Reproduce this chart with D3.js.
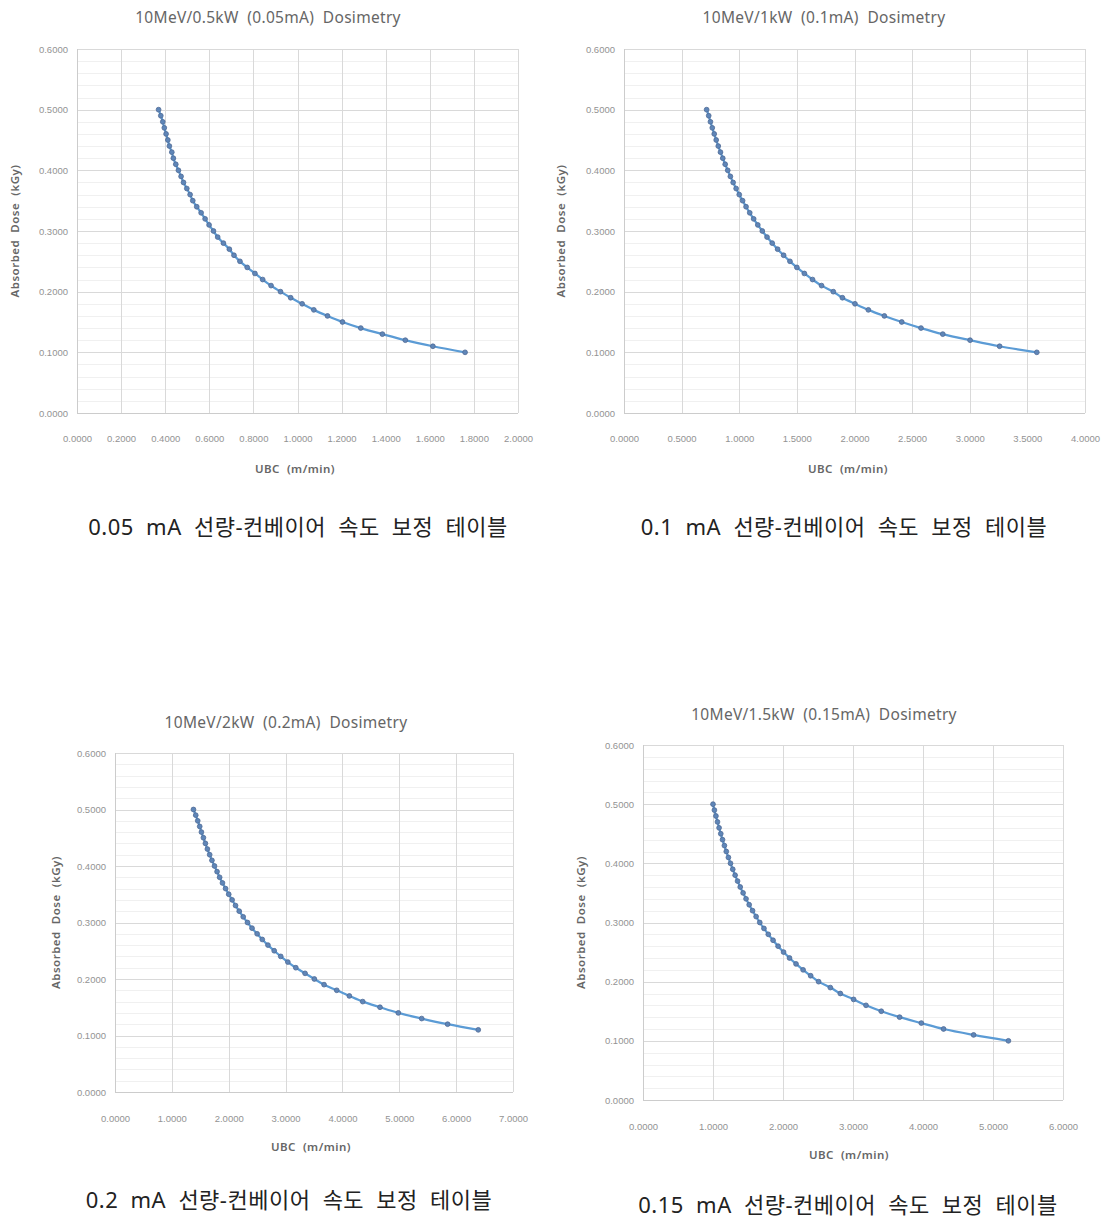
<!DOCTYPE html>
<meta charset="utf-8">
<style>
 body { margin: 0; background: #fff; }
 svg { font-family: "Noto Sans", "Open Sans", sans-serif; }
 text { white-space: pre; }
 .grid line { stroke: #d9d9d9; shape-rendering: crispEdges; }
 .grid path { display: none; }
 .minor line { stroke: #f0f0f0; shape-rendering: crispEdges; }
 .labels path { display: none; }
 .labels text { fill: #939393; font-size: 9.5px; }
 .frame { stroke: #cccccc; shape-rendering: crispEdges; }
 .title { fill: #666; font-size: 15.5px; letter-spacing: 0.3px; }
 .axistitle { fill: #666; font-size: 11.5px; font-weight: 600; letter-spacing: 0.5px; }
 .caption { fill: #222; font-family: "Noto Sans", "Noto Sans CJK KR", sans-serif; font-size: 22px; word-spacing: 6px; letter-spacing: 0.5px; }
 .series { fill: none; stroke: #5b9bd5; stroke-width: 2.25px; }
 .dot { fill: #5f86b8; stroke: #4f6a94; stroke-width: 0.8px; }
</style>

<svg id="page" width="1109" height="1220"></svg>

<script src="https://cdn.jsdelivr.net/npm/d3@7/dist/d3.min.js"></script>

<script>
 // absorbed dose (kGy), same steps for every table
 var dose = [0.50, 0.49, 0.48, 0.47, 0.46, 0.45, 0.44, 0.43, 0.42, 0.41,
             0.40, 0.39, 0.38, 0.37, 0.36, 0.35, 0.34, 0.33, 0.32, 0.31,
             0.30, 0.29, 0.28, 0.27, 0.26, 0.25, 0.24, 0.23, 0.22, 0.21,
             0.20, 0.19, 0.18, 0.17, 0.16, 0.15, 0.14, 0.13, 0.12, 0.11, 0.10];

 // conveyor speed UBC (m/min)
 var ubc005 = [0.370, 0.380, 0.389, 0.396, 0.404, 0.412, 0.419, 0.430, 0.437, 0.448,
               0.460, 0.472, 0.483, 0.498, 0.513, 0.525, 0.543, 0.563, 0.581, 0.599,
               0.619, 0.638, 0.664, 0.691, 0.712, 0.739, 0.772, 0.807, 0.842, 0.880,
               0.923, 0.969, 1.021, 1.074, 1.136, 1.204, 1.287, 1.385, 1.489, 1.614, 1.760];

 var ubc010 = [0.717, 0.735, 0.750, 0.766, 0.783, 0.800, 0.818, 0.837, 0.857, 0.878,
               0.900, 0.923, 0.947, 0.973, 1.000, 1.029, 1.059, 1.091, 1.125, 1.161,
               1.200, 1.241, 1.286, 1.333, 1.385, 1.440, 1.500, 1.565, 1.636, 1.714,
               1.816, 1.895, 2.004, 2.120, 2.259, 2.410, 2.577, 2.766, 3.003, 3.259, 3.582];

 var ubc020 = [1.380, 1.420, 1.455, 1.490, 1.520, 1.555, 1.590, 1.625, 1.665, 1.705,
               1.750, 1.795, 1.840, 1.890, 1.945, 2.000, 2.060, 2.120, 2.185, 2.255,
               2.330, 2.410, 2.500, 2.590, 2.690, 2.800, 2.915, 3.040, 3.180, 3.343,
               3.506, 3.677, 3.900, 4.122, 4.357, 4.661, 4.983, 5.394, 5.850, 6.389];

 var ubc015 = [1.000, 1.020, 1.042, 1.064, 1.087, 1.111, 1.136, 1.163, 1.190, 1.220,
               1.250, 1.282, 1.316, 1.351, 1.389, 1.430, 1.472, 1.517, 1.565, 1.616,
               1.668, 1.728, 1.790, 1.858, 1.930, 2.008, 2.093, 2.186, 2.287, 2.395,
               2.509, 2.676, 2.819, 3.009, 3.186, 3.404, 3.666, 3.976, 4.294, 4.723, 5.220];

 var yTicks = [0, 0.1, 0.2, 0.3, 0.4, 0.5, 0.6];
 var xTicks005 = [0, 0.2, 0.4, 0.6, 0.8, 1.0, 1.2, 1.4, 1.6, 1.8, 2.0];
 var xTicks010 = [0, 0.5, 1.0, 1.5, 2.0, 2.5, 3.0, 3.5, 4.0];
 var xTicks020 = [0, 1, 2, 3, 4, 5, 6, 7];
 var xTicks015 = [0, 1, 2, 3, 4, 5, 6];

 var titles = ["10MeV/0.5kW  (0.05mA)  Dosimetry",
               "10MeV/1kW  (0.1mA)  Dosimetry",
               "10MeV/2kW  (0.2mA)  Dosimetry",
               "10MeV/1.5kW  (0.15mA)  Dosimetry"];

 var captions = ["0.05 mA 선량-컨베이어 속도 보정 테이블",
                 "0.1 mA 선량-컨베이어 속도 보정 테이블",
                 "0.2 mA 선량-컨베이어 속도 보정 테이블",
                 "0.15 mA 선량-컨베이어 속도 보정 테이블"];

 var xLabel = "UBC  (m/min)";
 var yLabel = "Absorbed  Dose  (kGy)";

 // panel layout
 var panels = [
     {ubc: ubc005, xt: xTicks005, title: titles[0], caption: captions[0],
      left: 77, right: 518, top: 49, bottom: 413, titleX: 268, titleY: 23,
      xtY: 435, xTitleX: 295, xTitleY: 473, yTitleX: 19, capX: 298, capY: 535},
     {ubc: ubc010, xt: xTicks010, title: titles[1], caption: captions[1],
      left: 624, right: 1085, top: 49, bottom: 413, titleX: 824, titleY: 23,
      xtY: 435, xTitleX: 848, xTitleY: 473, yTitleX: 565, capX: 844, capY: 535},
     {ubc: ubc020, xt: xTicks020, title: titles[2], caption: captions[2],
      left: 115, right: 513, top: 753, bottom: 1092, titleX: 286, titleY: 728,
      xtY: 1115, xTitleX: 311, xTitleY: 1151, yTitleX: 60, capX: 289, capY: 1208},
     {ubc: ubc015, xt: xTicks015, title: titles[3], caption: captions[3],
      left: 643, right: 1063, top: 745, bottom: 1100, titleX: 824, titleY: 720,
      xtY: 1123, xTitleX: 849, xTitleY: 1159, yTitleX: 585, capX: 848, capY: 1213}
 ];

 var svg = d3.select("#page");

 panels.forEach(drawPanel);

 function drawPanel(p)
 {
     var g = svg.append("g");
     var w = p.right - p.left, h = p.bottom - p.top;

     var x = d3.scaleLinear().domain([0, d3.max(p.xt)]).range([p.left, p.right]);
     var y = d3.scaleLinear().domain([0, 0.6]).range([p.bottom, p.top]);

     // minor horizontal gridlines
     var minorTicks = d3.range(1, 30).map(function(i) { return i * 0.02; })
                        .filter(function(v) { return Math.abs(v * 10 - Math.round(v * 10)) > 0.01; });
     g.append("g").attr("class", "minor")
         .selectAll("line").data(minorTicks).enter().append("line")
         .attr("x1", p.left).attr("x2", p.right)
         .attr("y1", function(d) { return Math.round(y(d)) + 0.5; })
         .attr("y2", function(d) { return Math.round(y(d)) + 0.5; });

     g.append("g").attr("class", "grid")
         .attr("transform", "translate(" + p.left + ",0)")
         .call(d3.axisLeft(y).tickValues(yTicks).tickSize(-w).tickFormat(""));

     g.append("g").attr("class", "grid")
         .attr("transform", "translate(0," + p.bottom + ")")
         .call(d3.axisBottom(x).tickValues(p.xt).tickSize(-h).tickFormat(""));

     g.append("line").attr("class", "frame")
         .attr("x1", p.left).attr("x2", p.left).attr("y1", p.top).attr("y2", p.bottom);
     g.append("line").attr("class", "frame")
         .attr("x1", p.left).attr("x2", p.right).attr("y1", p.bottom).attr("y2", p.bottom);

     // tick labels
     g.append("g").attr("class", "labels")
         .attr("transform", "translate(" + p.left + ",0)")
         .call(d3.axisLeft(y).tickValues(yTicks).tickSize(0).tickPadding(9).tickFormat(d3.format(".4f")));

     g.append("g").attr("class", "labels")
         .attr("transform", "translate(0," + p.xtY + ")")
         .call(d3.axisBottom(x).tickValues(p.xt).tickSize(0).tickPadding(0).tickFormat(d3.format(".4f")));

     // series
     var pts = p.ubc.map(function(u, i) { return {u: u, d: dose[i]}; });

     var line = d3.line()
                  .x(function(d) { return x(d.u); })
                  .y(function(d) { return y(d.d); })
                  .curve(d3.curveCatmullRom);

     g.append("path").datum(pts).attr("class", "series").attr("d", line);

     g.selectAll(".dot").data(pts).enter().append("circle")
         .attr("class", "dot")
         .attr("cx", function(d) { return x(d.u); })
         .attr("cy", function(d) { return y(d.d); })
         .attr("r", 2.4);

     // titles
     g.append("text").attr("class", "title")
         .attr("x", p.titleX).attr("y", p.titleY)
         .attr("text-anchor", "middle").text(p.title);

     g.append("text").attr("class", "axistitle")
         .attr("x", p.xTitleX).attr("y", p.xTitleY)
         .attr("text-anchor", "middle").text(xLabel);

     g.append("text").attr("class", "axistitle")
         .attr("transform", "translate(" + p.yTitleX + "," + (p.top + h / 2) + ") rotate(-90)")
         .attr("text-anchor", "middle").text(yLabel);

     svg.append("text").attr("class", "caption")
         .attr("x", p.capX).attr("y", p.capY)
         .attr("text-anchor", "middle").text(p.caption);
 }
</script>
